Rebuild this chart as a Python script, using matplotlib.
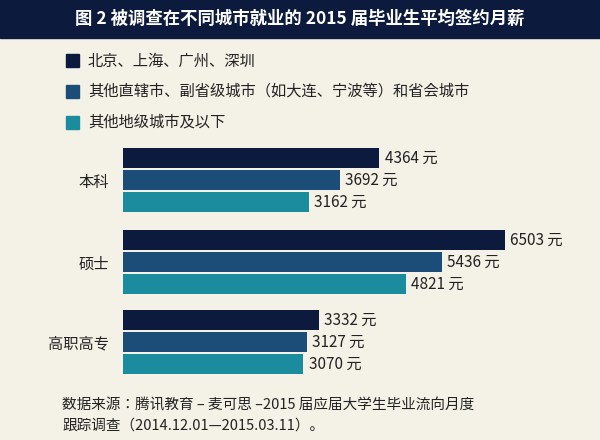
import matplotlib
matplotlib.use("Agg")
import matplotlib.pyplot as plt
from matplotlib.patches import Rectangle
from matplotlib import font_manager

names = {f.name for f in font_manager.fontManager.ttflist}
fams = [n for n in ["Noto Sans CJK SC", "Noto Sans CJK JP", "Noto Sans CJK TC",
                    "Noto Sans CJK KR"] if n in names]
plt.rcParams["font.family"] = fams + ["DejaVu Sans"]

title = "图 2 被调查在不同城市就业的 2015 届毕业生平均签约月薪"
categories = ["本科", "硕士", "高职高专"]
series_names = ["北京、上海、广州、深圳",
                "其他直辖市、副省级城市（如大连、宁波等）和省会城市",
                "其他地级城市及以下"]
tier1 = [4364, 6503, 3332]
tier2 = [3692, 5436, 3127]
tier3 = [3162, 4821, 3070]
unit = "元"
source = ["数据来源：腾讯教育 – 麦可思 –2015 届应届大学生毕业流向月度",
          "跟踪调查（2014.12.01—2015.03.11）。"]

colors = ["#0b1a3d", "#1c4c78", "#1a8c9e"]
bg = "#f4f1e6"

fig = plt.figure(figsize=(6, 4.4), dpi=100, facecolor=bg)
fig.patches.append(Rectangle((0, 1 - 38/440), 1, 38/440, transform=fig.transFigure,
                             color="#0b1a3d", zorder=0))
fig.text(0.5, 1 - 19/440, title, color="white", fontsize=12.5, fontweight="bold",
         ha="center", va="center")

for i, (name, c) in enumerate(zip(series_names, colors)):
    y = 1 - (61 + i*30.5)/440
    fig.patches.append(Rectangle((66/600, y - 6.5/440), 13/600, 13/440,
                                 transform=fig.transFigure, color=c))
    fig.text(88/600, y, name, fontsize=11, color="#222222", va="center")

ax = fig.add_axes([123/600, 60/440, 458/600, 240/440])
ax.set_facecolor(bg)
ax.set_xlim(0, 7800)
ax.set_ylim(380, 140)
centers = [180, 262, 342]
offs = [-22, 0, 22]
for s, (vals, c) in enumerate(zip([tier1, tier2, tier3], colors)):
    ys = [cc + offs[s] for cc in centers]
    ax.barh(ys, vals, height=20.5, color=c)
    for y, v in zip(ys, vals):
        ax.text(v + 90, y, f"{v} {unit}", va="center", ha="left", fontsize=11, color="#222222")
ax.set_yticks(centers)
ax.set_yticklabels(categories, fontsize=11, color="#222222")
ax.tick_params(length=0, pad=10)
ax.set_xticks([])
for sp in ax.spines.values():
    sp.set_visible(False)

for i, line in enumerate(source):
    fig.text(62/600, 1 - (405 + i*21)/440, line, fontsize=10.5, color="#222222", va="center")

fig.savefig("out.png", dpi=100, facecolor=bg)
